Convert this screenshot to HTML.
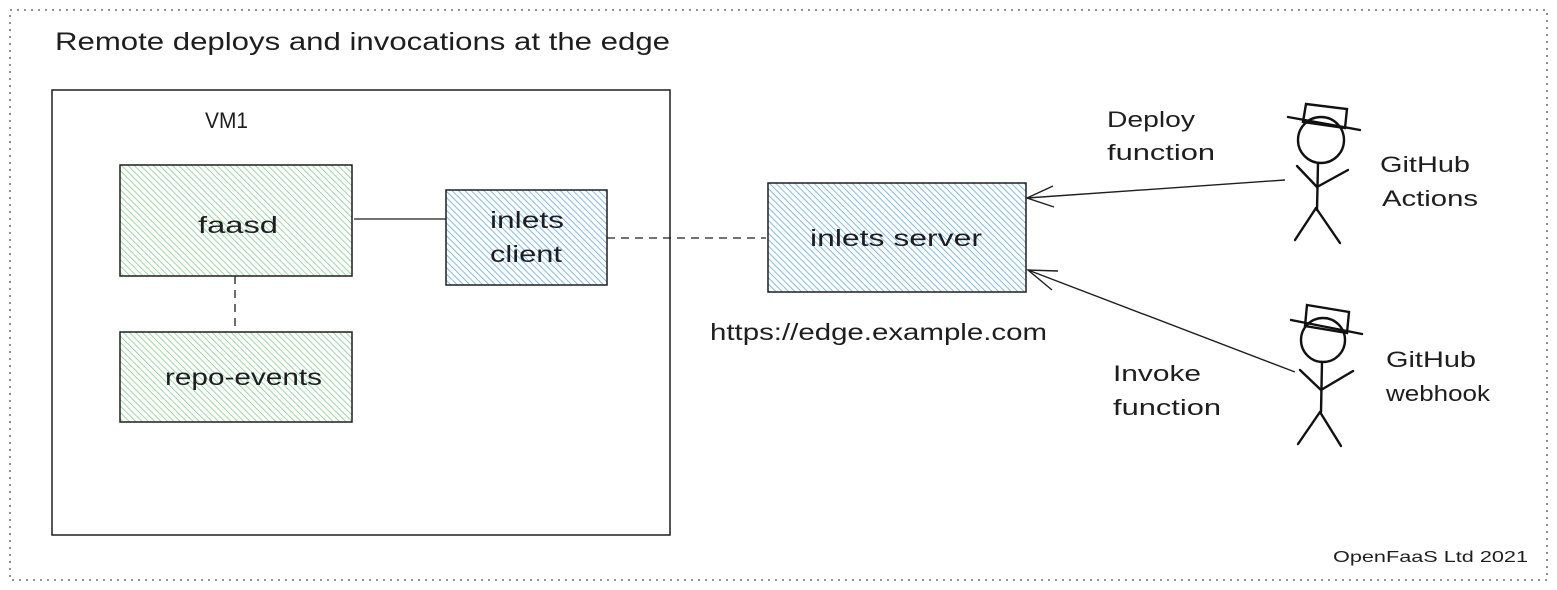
<!DOCTYPE html>
<html><head><meta charset="utf-8"><style>
html,body{margin:0;padding:0;background:#fff;}
svg{display:block;}
text{font-family:"Liberation Sans",sans-serif;fill:#1e1e1e;}
</style></head><body>
<svg width="1557" height="590" viewBox="0 0 1557 590" xmlns="http://www.w3.org/2000/svg">
<defs>
<pattern id="g" width="4.5" height="4.5" patternUnits="userSpaceOnUse" patternTransform="rotate(-45)">
<line x1="0" y1="0" x2="0" y2="4.5" stroke="#7fd08c" stroke-width="1.6"/>
</pattern>
<pattern id="b" width="4.5" height="4.5" patternUnits="userSpaceOnUse" patternTransform="rotate(-45)">
<line x1="0" y1="0" x2="0" y2="4.5" stroke="#5eabec" stroke-width="1.6"/>
</pattern>
</defs>
<rect x="10" y="10" width="1537" height="570" fill="none" stroke="#555" stroke-width="1.3" stroke-dasharray="2,5"/>
<text x="55" y="50" font-size="25" textLength="615" lengthAdjust="spacingAndGlyphs">Remote deploys and invocations at the edge</text>
<rect x="52" y="90" width="618" height="445" fill="none" stroke="#1e1e1e" stroke-width="1.5"/>
<text x="205" y="128" font-size="22" textLength="43" lengthAdjust="spacingAndGlyphs">VM1</text>

<rect x="120" y="165" width="232" height="111" fill="url(#g)" stroke="#1e1e1e" stroke-width="1.5"/>
<text x="198" y="233" font-size="23" textLength="80" lengthAdjust="spacingAndGlyphs">faasd</text>
<rect x="120" y="332" width="232" height="90" fill="url(#g)" stroke="#1e1e1e" stroke-width="1.5"/>
<text x="165" y="385" font-size="23" textLength="157" lengthAdjust="spacingAndGlyphs">repo-events</text>
<line x1="235" y1="276" x2="235" y2="332" stroke="#1e1e1e" stroke-width="1.3" stroke-dasharray="8,6"/>

<rect x="446" y="190" width="161" height="95" fill="url(#b)" stroke="#1e1e1e" stroke-width="1.5"/>
<text x="490" y="228" font-size="23" textLength="74" lengthAdjust="spacingAndGlyphs">inlets</text>
<text x="490" y="262" font-size="23" textLength="72" lengthAdjust="spacingAndGlyphs">client</text>
<line x1="354" y1="219" x2="446" y2="219" stroke="#1e1e1e" stroke-width="1.3"/>
<line x1="607" y1="238" x2="766" y2="238" stroke="#1e1e1e" stroke-width="1.3" stroke-dasharray="8,6"/>

<rect x="768" y="183" width="258" height="109" fill="url(#b)" stroke="#1e1e1e" stroke-width="1.5"/>
<text x="810" y="246" font-size="23" textLength="172" lengthAdjust="spacingAndGlyphs">inlets server</text>
<text x="710" y="340" font-size="23" textLength="337" lengthAdjust="spacingAndGlyphs">https://edge.example.com</text>

<text x="1107" y="127" font-size="22" textLength="88" lengthAdjust="spacingAndGlyphs">Deploy</text>
<text x="1107" y="160" font-size="22" textLength="108" lengthAdjust="spacingAndGlyphs">function</text>
<text x="1113" y="381" font-size="22" textLength="88" lengthAdjust="spacingAndGlyphs">Invoke</text>
<text x="1113" y="415" font-size="22" textLength="108" lengthAdjust="spacingAndGlyphs">function</text>
<text x="1380" y="172" font-size="22" textLength="90" lengthAdjust="spacingAndGlyphs">GitHub</text>
<text x="1382" y="206" font-size="22" textLength="96" lengthAdjust="spacingAndGlyphs">Actions</text>
<text x="1386" y="367" font-size="22" textLength="90" lengthAdjust="spacingAndGlyphs">GitHub</text>
<text x="1386" y="401" font-size="22" textLength="104" lengthAdjust="spacingAndGlyphs">webhook</text>
<text x="1333" y="562" font-size="16" textLength="195" lengthAdjust="spacingAndGlyphs">OpenFaaS Ltd 2021</text>

<g stroke="#1e1e1e" stroke-width="1.4" fill="none">
<line x1="1285" y1="180" x2="1027" y2="198"/>
<polyline points="1053,186 1027,198 1054,207"/>
<line x1="1295" y1="372" x2="1028" y2="270"/>
<polyline points="1058,271 1028,270 1052,290"/>
</g>

<g stroke="#111" stroke-width="2.4" fill="none" stroke-linecap="round">
<polygon points="1306,104 1347,109 1345,128 1303,122"/>
<line x1="1288" y1="117" x2="1360" y2="130"/>
<circle cx="1321" cy="140" r="23"/>
<line x1="1318" y1="163" x2="1317" y2="210"/>
<line x1="1297" y1="166" x2="1317" y2="187"/>
<line x1="1317" y1="187" x2="1348" y2="170"/>
<line x1="1316" y1="208" x2="1295" y2="240"/>
<line x1="1316" y1="208" x2="1340" y2="243"/>
<polygon points="1307,305 1349,312 1347,333 1305,326"/>
<line x1="1291" y1="320" x2="1362" y2="334"/>
<circle cx="1323" cy="340" r="22"/>
<line x1="1322" y1="362" x2="1321" y2="412"/>
<line x1="1300" y1="370" x2="1321" y2="390"/>
<line x1="1321" y1="390" x2="1353" y2="371"/>
<line x1="1320" y1="412" x2="1298" y2="444"/>
<line x1="1320" y1="412" x2="1341" y2="446"/>
</g>
</svg>
</body></html>
